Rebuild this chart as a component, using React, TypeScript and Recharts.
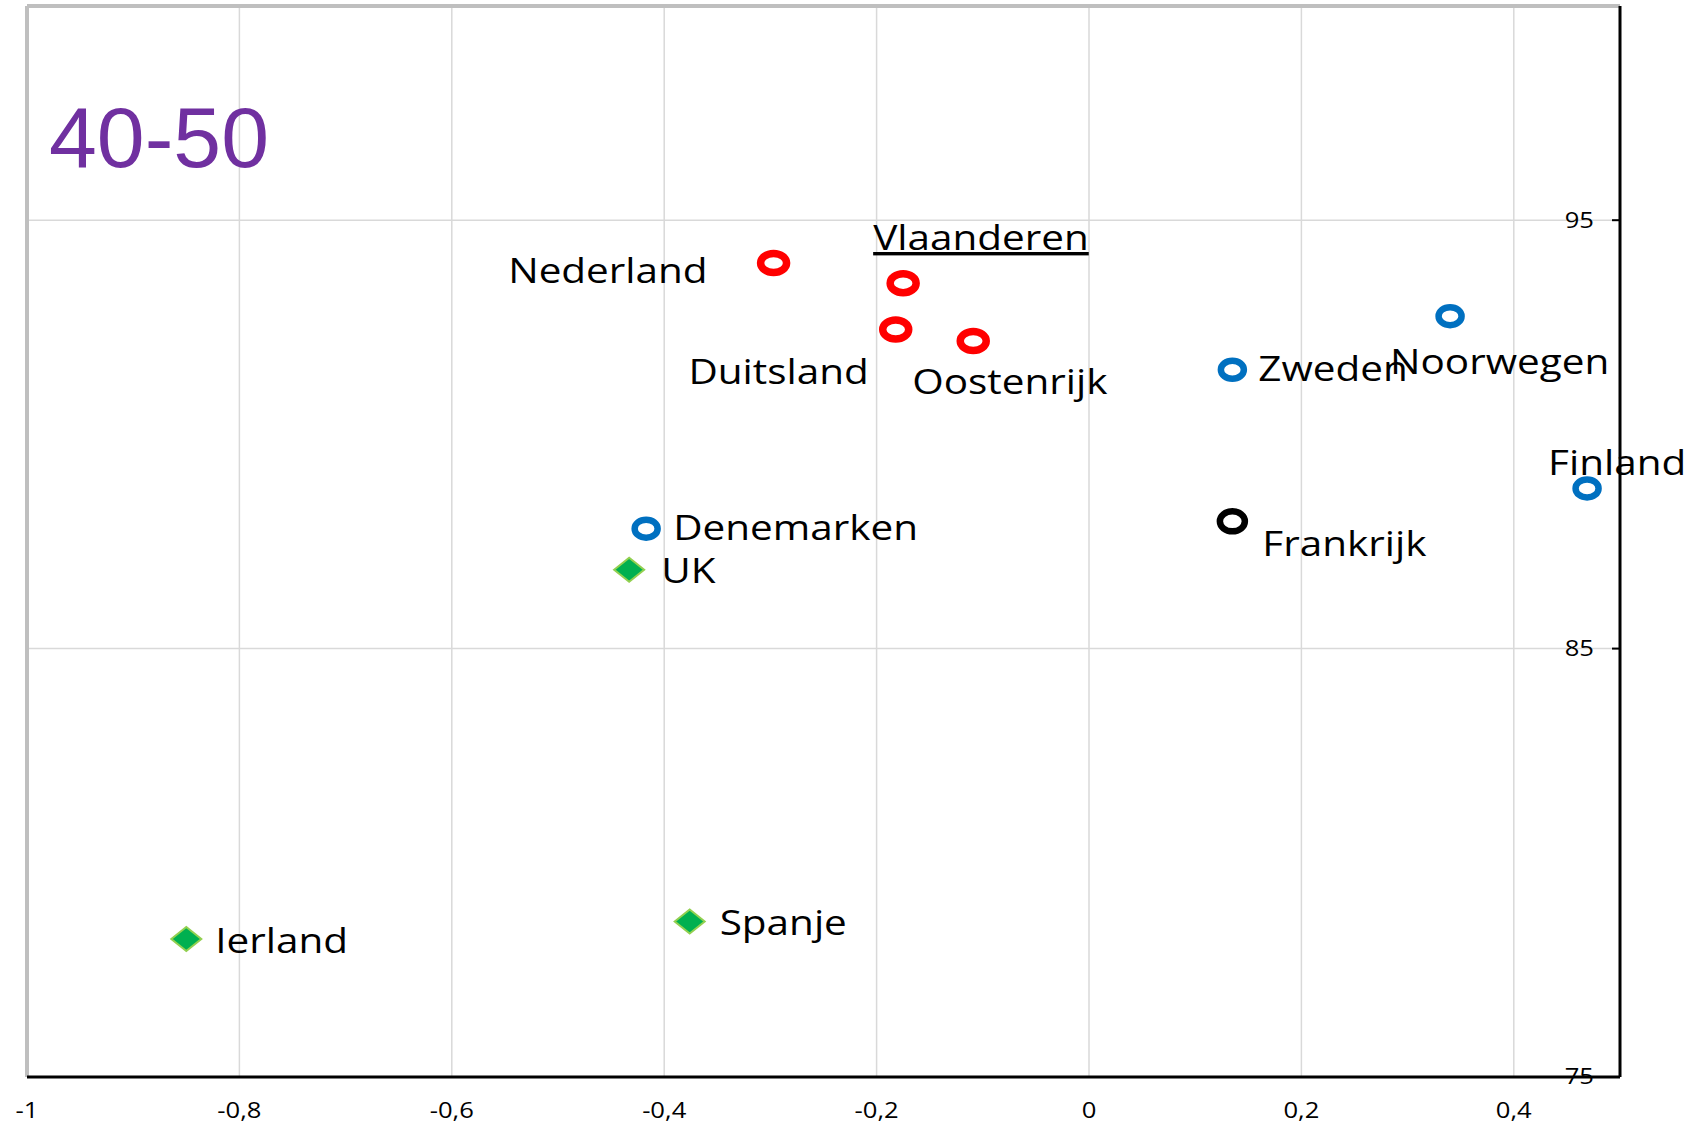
import { ScatterChart, Scatter, XAxis, YAxis, CartesianGrid, ReferenceLine } from 'recharts';

// landen per groep, x = positie op de horizontale as, y = score
const RODE_LANDEN = [
  { land: 'Nederland', x: -0.297, y: 94.0 },
  { land: 'Vlaanderen', x: -0.175, y: 93.53 },
  { land: 'Duitsland', x: -0.182, y: 92.45 },
  { land: 'Oostenrijk', x: -0.109, y: 92.18 },
];

const BLAUWE_LANDEN = [
  { land: 'Zweden', x: 0.135, y: 91.51 },
  { land: 'Noorwegen', x: 0.34, y: 92.76 },
  { land: 'Finland', x: 0.469, y: 88.74 },
  { land: 'Denemarken', x: -0.417, y: 87.8 },
];

const ZWARTE_LANDEN = [{ land: 'Frankrijk', x: 0.135, y: 87.97 }];

const GROENE_LANDEN = [
  { land: 'UK', x: -0.433, y: 86.84 },
  { land: 'Ierland', x: -0.85, y: 78.22 },
  { land: 'Spanje', x: -0.376, y: 78.63 },
];

const X_TICKS = [-1, -0.8, -0.6, -0.4, -0.2, 0, 0.2, 0.4];
const Y_TICKS = [75, 85, 95];
const TITEL = '40-50';

// label placement relative to the marker (px)
const LABEL_POS: Record<string, { dx: number; dy: number; anchor: 'start' | 'end' }> = {
  Nederland: { dx: -66, dy: 20, anchor: 'end' },
  Vlaanderen: { dx: -30, dy: -33, anchor: 'start' },
  Duitsland: { dx: -27, dy: 55, anchor: 'end' },
  Oostenrijk: { dx: -61, dy: 53, anchor: 'start' },
  Zweden: { dx: 26, dy: 11, anchor: 'start' },
  Noorwegen: { dx: -60, dy: 58, anchor: 'start' },
  Finland: { dx: -39, dy: -13, anchor: 'start' },
  Frankrijk: { dx: 30, dy: 35, anchor: 'start' },
  Denemarken: { dx: 27, dy: 11, anchor: 'start' },
  UK: { dx: 32, dy: 13, anchor: 'start' },
  Ierland: { dx: 29, dy: 14, anchor: 'start' },
  Spanje: { dx: 30, dy: 14, anchor: 'start' },
};

const STRETCH = 1.19;
const FONT = '"Open Sans", sans-serif';

function Label({ cx, cy, land }: { cx: number; cy: number; land: string }) {
  const pos = LABEL_POS[land] ?? { dx: 20, dy: 10, anchor: 'start' };
  return (
    <g transform={`translate(${cx + pos.dx},${cy + pos.dy}) scale(${STRETCH},1)`}>
      <text
        x={0}
        y={0}
        textAnchor={pos.anchor}
        fontFamily={FONT}
        fontSize={34}
        fill="#000"
        textDecoration={land === 'Vlaanderen' ? 'underline' : undefined}
      >
        {land}
      </text>
    </g>
  );
}

function ringShape(color: string, rx: number, ry: number, sw: number) {
  return (props: any) => {
    const { cx, cy, payload } = props;
    return (
      <g>
        <ellipse cx={cx} cy={cy} rx={rx} ry={ry} fill="none" stroke={color} strokeWidth={sw} />
        <Label cx={cx} cy={cy} land={payload.land} />
      </g>
    );
  };
}

function diamondShape(props: any) {
  const { cx, cy, payload } = props;
  const w = 15;
  const h = 12;
  return (
    <g>
      <path
        d={`M${cx - w},${cy} L${cx},${cy - h} L${cx + w},${cy} L${cx},${cy + h} Z`}
        fill="#00b050"
        stroke="#92d050"
        strokeWidth={2}
      />
      <Label cx={cx} cy={cy} land={payload.land} />
    </g>
  );
}

const fmt = (v: number) => String(v).replace('.', ',');

function XTick({ x, y, payload }: any) {
  return (
    <g transform={`translate(${x},${y}) scale(1.22,1)`}>
      <text x={0} y={0} dy="0.71em" textAnchor="middle" fontFamily={FONT} fontSize={21} fill="#000">
        {fmt(payload.value)}
      </text>
    </g>
  );
}

function YTick({ x, y, payload }: any) {
  return (
    <g transform={`translate(${x},${y}) scale(1.22,1)`}>
      <text x={0} y={0} dy="0.355em" textAnchor="end" fontFamily={FONT} fontSize={21} fill="#000">
        {payload.value}
      </text>
    </g>
  );
}

export default function App() {
  return (
    <div style={{ position: 'absolute', left: 0, top: 0, width: 1692, height: 1124, background: '#fff' }}>
      <ScatterChart width={1692} height={1124} margin={{ top: 6, right: 72, bottom: 7, left: 27 }}>
        <CartesianGrid stroke="#d9d9d9" strokeWidth={1.5} />
        <XAxis
          type="number"
          dataKey="x"
          domain={[-1, 0.5]}
          ticks={X_TICKS}
          height={40}
          tickLine={false}
          tickSize={6}
          tickMargin={20}
          axisLine={{ stroke: '#000', strokeWidth: 3 }}
          tick={<XTick />}
        />
        <YAxis
          type="number"
          dataKey="y"
          domain={[75, 100]}
          ticks={Y_TICKS}
          orientation="right"
          mirror
          tickSize={8}
          tickMargin={18}
          tickLine={{ stroke: '#000', strokeWidth: 2 }}
          axisLine={{ stroke: '#000', strokeWidth: 3 }}
          tick={<YTick />}
        />
        <ReferenceLine x={-1} stroke="#bfbfbf" strokeWidth={4} />
        <ReferenceLine y={100} stroke="#bfbfbf" strokeWidth={4} />
        <Scatter data={RODE_LANDEN} shape={ringShape('#ff0000', 13, 9.5, 7.5)} isAnimationActive={false} />
        <Scatter data={BLAUWE_LANDEN} shape={ringShape('#0070c0', 11.5, 9, 6.5)} isAnimationActive={false} />
        <Scatter data={ZWARTE_LANDEN} shape={ringShape('#000000', 12.5, 10, 6.5)} isAnimationActive={false} />
        <Scatter data={GROENE_LANDEN} shape={diamondShape} isAnimationActive={false} />
      </ScatterChart>
      <svg width={1692} height={1124} style={{ position: 'absolute', left: 0, top: 0, pointerEvents: 'none' }}>
        <text x={49} y={167} fontFamily='"Liberation Sans", Arial, sans-serif' fontSize={86} fill="#7030a0">
          {TITEL}
        </text>
      </svg>
    </div>
  );
}
